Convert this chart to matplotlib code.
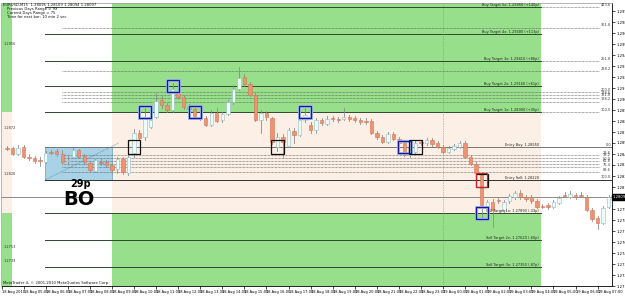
import numpy as np
import matplotlib.pyplot as plt
from matplotlib.patches import Rectangle
from matplotlib.ticker import MultipleLocator, FormatStrFormatter
import matplotlib.transforms as mtransforms

# EURUSD M15, 18 Aug 2010 04:00 -> 19 Aug 07:15
open_ = [1.2854, 1.2854, 1.2848, 1.2855, 1.2845, 1.2844, 1.2842, 1.2840, 1.2850, 1.2851,
         1.2848, 1.2841, 1.2845, 1.2852, 1.2846, 1.2839, 1.2831, 1.2840, 1.2840, 1.2837,
         1.2833, 1.2843, 1.2829, 1.2849, 1.2869, 1.2865, 1.2875, 1.2885, 1.2902, 1.2897,
         1.2892, 1.2911, 1.2905, 1.2895, 1.2893, 1.2885, 1.2884, 1.2877, 1.2889, 1.2882,
         1.2888, 1.2900, 1.2913, 1.2925, 1.2918, 1.2907, 1.2882, 1.2889, 1.2884, 1.2855,
         1.2865, 1.2856, 1.2871, 1.2867, 1.2882, 1.2877, 1.2872, 1.2882, 1.2878, 1.2884,
         1.2883, 1.2883, 1.2885, 1.2884, 1.2882, 1.2881, 1.2881, 1.2869, 1.2865, 1.2860,
         1.2868, 1.2863, 1.2860, 1.2847, 1.2850, 1.2860, 1.2859, 1.2862, 1.2859, 1.2855,
         1.2850, 1.2853, 1.2855, 1.2859, 1.2845, 1.2838, 1.2829, 1.2795, 1.2800, 1.2802,
         1.2792, 1.2801, 1.2805, 1.2809, 1.2805, 1.2805, 1.2801, 1.2796, 1.2797, 1.2795,
         1.2799, 1.2807, 1.2805, 1.2807, 1.2807, 1.2805, 1.2792, 1.2784, 1.2779, 1.2795]
close = [1.2853, 1.2848, 1.2854, 1.2845, 1.2844, 1.2841, 1.2841, 1.2849, 1.2849, 1.2848,
         1.2840, 1.2842, 1.2852, 1.2845, 1.2840, 1.2832, 1.2842, 1.2839, 1.2837, 1.2832,
         1.2843, 1.2830, 1.2845, 1.2869, 1.2864, 1.2884, 1.2882, 1.2901, 1.2897, 1.2892,
         1.2913, 1.2905, 1.2895, 1.2893, 1.2886, 1.2884, 1.2877, 1.2889, 1.2881, 1.2888,
         1.2900, 1.2913, 1.2924, 1.2918, 1.2907, 1.2882, 1.2889, 1.2885, 1.2860, 1.2865,
         1.2860, 1.2872, 1.2867, 1.2882, 1.2887, 1.2872, 1.2882, 1.2879, 1.2883, 1.2883,
         1.2882, 1.2885, 1.2883, 1.2882, 1.2880, 1.2880, 1.2869, 1.2865, 1.2860, 1.2868,
         1.2863, 1.2859, 1.2847, 1.2854, 1.2859, 1.2859, 1.2862, 1.2858, 1.2855, 1.2850,
         1.2854, 1.2856, 1.2859, 1.2845, 1.2838, 1.2829, 1.2797, 1.2800, 1.2792, 1.2801,
         1.2800, 1.2806, 1.2809, 1.2805, 1.2803, 1.2801, 1.2795, 1.2795, 1.2795, 1.2800,
         1.2804, 1.2806, 1.2808, 1.2805, 1.2806, 1.2792, 1.2783, 1.2779, 1.2794, 1.2805]
high = [1.2856, 1.2855, 1.2857, 1.2857, 1.2848, 1.2846, 1.2845, 1.2851, 1.2852, 1.2853,
        1.2852, 1.2846, 1.2854, 1.2853, 1.2848, 1.2841, 1.2843, 1.2844, 1.2842, 1.2839,
        1.2845, 1.2845, 1.2852, 1.2873, 1.2872, 1.2895, 1.2884, 1.2909, 1.2906, 1.2899,
        1.2919, 1.2914, 1.2907, 1.2898, 1.2895, 1.2888, 1.2886, 1.2892, 1.2894, 1.2890,
        1.2902, 1.2917, 1.2935, 1.2928, 1.2920, 1.2909, 1.2892, 1.2891, 1.2885, 1.2869,
        1.2868, 1.2874, 1.2874, 1.2884, 1.2895, 1.2880, 1.2884, 1.2884, 1.2886, 1.2886,
        1.2885, 1.2894, 1.2887, 1.2886, 1.2884, 1.2884, 1.2883, 1.2871, 1.2867, 1.2870,
        1.2870, 1.2865, 1.2862, 1.2856, 1.2861, 1.2862, 1.2864, 1.2864, 1.2861, 1.2857,
        1.2856, 1.2858, 1.2861, 1.2861, 1.2847, 1.2840, 1.2830, 1.2802, 1.2803, 1.2804,
        1.2802, 1.2808, 1.2811, 1.2812, 1.2807, 1.2807, 1.2803, 1.2798, 1.2799, 1.2802,
        1.2806, 1.2810, 1.2811, 1.2809, 1.2810, 1.2807, 1.2794, 1.2786, 1.2796, 1.2807]
low = [1.2852, 1.2847, 1.2847, 1.2844, 1.2842, 1.2839, 1.2836, 1.2839, 1.2848, 1.2846,
       1.2839, 1.2838, 1.2844, 1.2844, 1.2838, 1.2830, 1.2830, 1.2837, 1.2835, 1.2829,
       1.2829, 1.2828, 1.2827, 1.2845, 1.2862, 1.2862, 1.2874, 1.2884, 1.2894, 1.2890,
       1.2890, 1.2903, 1.2893, 1.2890, 1.2884, 1.2882, 1.2876, 1.2876, 1.2880, 1.2880,
       1.2887, 1.2898, 1.2912, 1.2916, 1.2906, 1.2881, 1.2869, 1.2882, 1.2858, 1.2851,
       1.2845, 1.2855, 1.2859, 1.2866, 1.2880, 1.2869, 1.2869, 1.2877, 1.2877, 1.2881,
       1.2880, 1.2882, 1.2881, 1.2880, 1.2878, 1.2878, 1.2868, 1.2863, 1.2859, 1.2859,
       1.2862, 1.2857, 1.2846, 1.2845, 1.2849, 1.2857, 1.2857, 1.2856, 1.2854, 1.2849,
       1.2849, 1.2852, 1.2854, 1.2844, 1.2837, 1.2828, 1.2785, 1.2793, 1.2775, 1.2799,
       1.2790, 1.2799, 1.2803, 1.2803, 1.2801, 1.2799, 1.2794, 1.2794, 1.2793, 1.2794,
       1.2798, 1.2805, 1.2804, 1.2803, 1.2805, 1.2791, 1.2781, 1.2773, 1.2778, 1.2794]

time_labels = ['18 Aug 2010', '18 Aug 05:00', '18 Aug 06:00', '18 Aug 07:00', '18 Aug 08:00',
               '18 Aug 09:00', '18 Aug 10:00', '18 Aug 11:00', '18 Aug 12:00', '18 Aug 13:00',
               '18 Aug 14:00', '18 Aug 15:00', '18 Aug 16:00', '18 Aug 17:00', '18 Aug 18:00',
               '18 Aug 19:00', '18 Aug 20:00', '18 Aug 21:00', '18 Aug 22:00', '18 Aug 23:00',
               '19 Aug 00:00', '19 Aug 01:00', '19 Aug 02:00', '19 Aug 03:00', '19 Aug 04:00',
               '19 Aug 05:00', '19 Aug 06:00', '19 Aug 07:00']

entry_buy = 1.2855
entry_sell = 1.2822
buy_targets = [1.2890, 1.2916, 1.2941, 1.2968, 1.2995]
sell_targets = [1.2789, 1.2762, 1.2735]

fib_prices = [1.2995, 1.2974, 1.2941, 1.2931, 1.2910, 1.2907, 1.2904, 1.2900, 1.2890,
              1.2855, 1.2847, 1.2844, 1.2841, 1.2838, 1.2835, 1.2830, 1.2822]
fib_labels = ['423.6', '361.8', '261.8', '238.2', '200.0', '178.6', '161.8', '138.2', '100.0',
              '0.0', '23.6', '38.2', '50.0', '61.8', '76.4', '88.6', '100.0']

left_prices = [1.2956, 1.2872, 1.2826, 1.2753, 1.2739]

black_x = [23, 49, 74, 86]
black_y = [1.2855, 1.2855, 1.2855, 1.2822]
blue_x = [25, 30, 34, 54, 72, 86]
blue_y = [1.2890, 1.2916, 1.2890, 1.2890, 1.2855, 1.2789]
red_x = [86]
red_y = [1.2822]

GREEN = '#97df8a'
PEACH = '#fbefe6'
BOXBLUE = '#a8d3e6'

fig = plt.figure(figsize=(6.25, 2.96), dpi=100)
ax = fig.add_axes([1.5 / 625, 10 / 296, 610.5 / 625, 283 / 296])
x0, x1 = -1, 109.6
y0, y1 = 1.2716, 1.2999
ax.set_xlim(x0, x1)
ax.set_ylim(y0, y1)

sess0, sess1 = 19.0, 96.7
for a, b in [(x0, 0.9), (sess0, sess1)]:
    ax.fill_between([a, b], buy_targets[0], y1, color=GREEN, lw=0, zorder=0)
    ax.fill_between([a, b], y0, sell_targets[0], color=GREEN, lw=0, zorder=0)
    ax.fill_between([a, b], sell_targets[0], buy_targets[0], color=PEACH, lw=0, zorder=0)

# breakout box
bx0, bx1 = 6.9, sess0
ax.add_patch(Rectangle((bx0, entry_sell), bx1 - bx0, entry_buy - entry_sell,
                       facecolor=BOXBLUE, edgecolor='#6a9fb8', lw=0.5, zorder=1))
ax.plot([bx0, bx1 + 1.2], [entry_sell, entry_buy + 0.0004], color='#5a7f90',
        lw=0.5, ls=(0, (1, 1)), zorder=2)

# fib dotted lines
for p, lab in zip(fib_prices, fib_labels):
    ax.plot([10, 107.3], [p, p], color='#555555', lw=0.5, ls=(0, (1, 1)), zorder=2)
    ax.text(109.4, p + 0.00005, lab, fontsize=2.5, ha='right', va='bottom', color='#333333', zorder=5)

# target lines
for k, p in enumerate(buy_targets):
    ax.plot([bx0, sess1], [p, p], color='#2f4a2f', lw=0.7, zorder=2)
    ax.text(sess1 - 0.3, p + 0.00004, f'Buy Target {k + 1}x: {p:.5f} (+{round((p - entry_buy) * 1e4)}p)',
            fontsize=2.5, ha='right', va='bottom', color='#222222', zorder=5)
for k, p in enumerate(sell_targets):
    ax.plot([bx0, sess1], [p, p], color='#2f4a2f', lw=0.7, zorder=2)
    ax.text(sess1 - 0.3, p + 0.00004, f'Sell Target {k + 1}x: {p:.5f} (-{round((entry_sell - p) * 1e4)}p)',
            fontsize=2.5, ha='right', va='bottom', color='#222222', zorder=5)
ax.plot([bx0, x1], [entry_buy, entry_buy], color='#777777', lw=0.7, zorder=2)
ax.plot([bx0, x1], [entry_sell, entry_sell], color='#333333', lw=0.7, zorder=2)
ax.text(sess1 - 0.3, entry_buy + 0.00004, f'Entry Buy: {entry_buy:.5f}', fontsize=2.5,
        ha='right', va='bottom', color='#222222', zorder=5)
ax.text(sess1 - 0.3, entry_sell + 0.00004, f'Entry Sell: {entry_sell:.5f}', fontsize=2.5,
        ha='right', va='bottom', color='#222222', zorder=5)

# bid line and day separator
ax.axhline(close[-1], color='#7a7a7a', lw=0.6, zorder=2)
ax.axvline(79, color='#888888', lw=0.5, ls=(0, (1, 1.5)), zorder=2)

# candles
xs = np.arange(len(close))
for i in xs:
    o, h, l, c = open_[i], high[i], low[i], close[i]
    bull = c >= o
    ax.plot([i, i], [l, h], color='#8c8c8c', lw=0.6, zorder=3)
    body = max(abs(c - o), 0.00006)
    ax.add_patch(Rectangle((i - 0.31, min(o, c)), 0.62, body,
                           facecolor='#ecfbfb' if bull else '#ee9272',
                           edgecolor='#94bcbc' if bull else '#d27656', lw=0.4, zorder=4))

# level-cross squares
def squares(xv, yv, col, w, hgt, lw, glow=None):
    for xx, yy in zip(xv, yv):
        if glow:
            ax.add_patch(Rectangle((xx - w / 2, yy - hgt / 2), w, hgt, fill=False,
                                   edgecolor=glow, lw=lw + 1.2, zorder=5))
        ax.add_patch(Rectangle((xx - w / 2, yy - hgt / 2), w, hgt, fill=False,
                               edgecolor=col, lw=lw, zorder=6))

squares(black_x, black_y, '#111111', 2.2, 0.0013, 0.9)
squares(blue_x, blue_y, '#16169a', 2.2, 0.0012, 0.9, glow='#9fb8f0')
squares(red_x, red_y, '#d02020', 1.9, 0.0014, 0.8)

ax.text(13.3, 1.2818, '29p', fontsize=7, fontweight='bold', ha='center', va='center', zorder=7)
ax.text(13.0, 1.2803, 'BO', fontsize=14, fontweight='bold', ha='center', va='center', zorder=7)

for p in left_prices:
    ax.text(-0.7, p + 0.00003, f'{p:.4f}', fontsize=2.5, ha='left', va='bottom', color='#333333', zorder=5)

# header / footer texts
hdr = ['EURUSD,M15  1.28095 1.28109 1.28094 1.28097', 'Previous Days Range = 99',
       'Current Days Range = 75', 'Time for next bar: 10 min 2 sec']
for k, t in enumerate(hdr):
    fig.text((3 if k == 0 else 7) / 625, 1 - (5 + 4 * k) / 296, t, fontsize=2.7,
             va='center', ha='left', color='#111111')
fig.text(3 / 625, 1 - 283 / 296, 'MetaTrader 4, \u00a9 2001-2010 MetaQuotes Software Corp.',
         fontsize=2.7, va='center', ha='left', color='#111111')

# axes
ax.yaxis.tick_right()
ax.yaxis.set_major_locator(MultipleLocator(0.0011))
ax.yaxis.set_major_formatter(FormatStrFormatter('%.5f'))
ax.tick_params(axis='y', labelsize=2.7, length=2, width=0.5, pad=1)
ax.set_xticks([4 * k - 1 for k in range(len(time_labels))])
ax.set_xticklabels(time_labels, ha='left')
ax.tick_params(axis='x', labelsize=2.6, length=2, width=0.5, pad=1)
for s in ['right', 'bottom']:
    ax.spines[s].set_color('black')
    ax.spines[s].set_linewidth(0.6)
for s in ['top', 'left']:
    ax.spines[s].set_color('#999999')
    ax.spines[s].set_linewidth(0.5)

trans = mtransforms.blended_transform_factory(ax.transAxes, ax.transData)
ax.text(1.001, close[-1], '1.28097', transform=trans, fontsize=2.7, color='white', va='center',
        ha='left', bbox=dict(boxstyle='square,pad=0.15', fc='black', ec='black'), zorder=8, clip_on=False)

plt.savefig('out.png', dpi=100)
